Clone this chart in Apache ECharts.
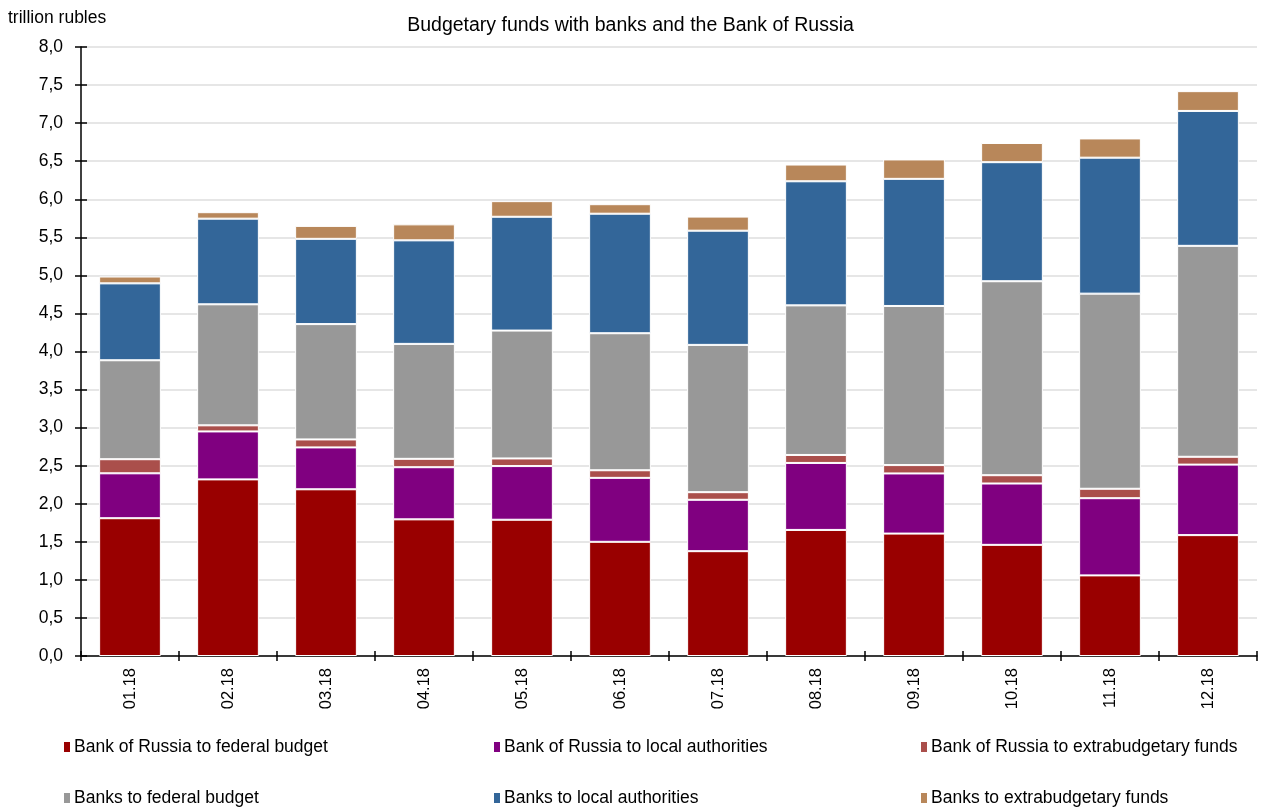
<!DOCTYPE html>
<html>
<head>
<meta charset="utf-8">
<script src="https://cdn.jsdelivr.net/npm/echarts@6/dist/echarts.min.js"></script>
<style>
html,body{margin:0;padding:0;background:#fff;}
#chart{width:1261px;height:807px;}
</style>
</head>
<body>
<div id="chart"></div>
<script>
const categories = ['01.18','02.18','03.18','04.18','05.18','06.18','07.18','08.18','09.18','10.18','11.18','12.18'];
const cbrFederal   = [1.81, 2.32, 2.19, 1.795, 1.79, 1.50, 1.377, 1.656, 1.608, 1.46, 1.059, 1.588];
const cbrLocal     = [0.59, 0.63, 0.55, 0.685, 0.705, 0.84, 0.675, 0.88, 0.79, 0.806, 1.014, 0.926];
const cbrExtra     = [0.185, 0.08, 0.105, 0.11, 0.10, 0.10, 0.10, 0.105, 0.11, 0.109, 0.124, 0.103];
const banksFederal = [1.30, 1.59, 1.515, 1.51, 1.68, 1.80, 1.935, 1.965, 2.09, 2.548, 2.563, 2.771];
const banksLocal   = [1.01, 1.125, 1.12, 1.36, 1.495, 1.57, 1.50, 1.63, 1.67, 1.564, 1.786, 1.772];
const banksExtra   = [0.09, 0.085, 0.17, 0.21, 0.205, 0.125, 0.185, 0.22, 0.255, 0.252, 0.253, 0.26];
const seriesNames = ['Bank of Russia to federal budget','Bank of Russia to local authorities','Bank of Russia to extrabudgetary funds','Banks to federal budget','Banks to local authorities','Banks to extrabudgetary funds'];
const seriesData = [cbrFederal, cbrLocal, cbrExtra, banksFederal, banksLocal, banksExtra];
const colors = ['#990000','#800080','#aa4f4b','#989898','#336699','#b8875a'];

const FONT = '"Liberation Sans", Arial, sans-serif';
const chart = echarts.init(document.getElementById('chart'), null, {renderer:'canvas'});

const legendPos = [[62,738],[492,738],[919,738],[62,789],[492,789],[919,789]];
const legends = seriesNames.map((n,i)=>({
  data:[n], left: legendPos[i][0], top: legendPos[i][1],
  itemWidth: 8, itemHeight: 12, itemGap: 5, icon: 'rect',
  textStyle:{fontFamily:FONT, fontSize:17.5, color:'#000', padding:[0,0,0,-2]},
  padding:0, selectedMode:false
}));

const option = {
  animation:false,
  color: colors,
  title:[
    {text:'Budgetary funds with banks and the Bank of Russia', left:'center', top:16,
     textStyle:{fontFamily:FONT, fontSize:19.5, fontWeight:'normal', color:'#000'}, padding:0},
    {text:'trillion rubles', left:8, top:9,
     textStyle:{fontFamily:FONT, fontSize:17.5, fontWeight:'normal', color:'#000'}, padding:0}
  ],
  legend: legends,
  grid:{left:81, right:4, top:47, bottom:151, containLabel:false},
  xAxis:[
    {type:'category', data:categories, boundaryGap:true,
     axisLine:{lineStyle:{color:'#000', width:1.5}},
     axisTick:{show:true, length:5, lineStyle:{color:'#000', width:1.5}},
     axisLabel:{rotate:90, fontFamily:FONT, fontSize:16.5, color:'#000', margin:12}},
    {type:'category', data:categories, boundaryGap:true, position:'bottom',
     axisLine:{show:false},
     axisTick:{show:true, inside:true, length:5, lineStyle:{color:'#000', width:1.5}},
     axisLabel:{show:false}, splitLine:{show:false}}
  ],
  yAxis:[
    {type:'value', min:0, max:8, interval:0.5,
     axisLine:{show:true, lineStyle:{color:'#000', width:1.5}},
     axisTick:{show:true, length:6, lineStyle:{color:'#000', width:1.5}},
     axisLabel:{fontFamily:FONT, fontSize:17.5, color:'#000', margin:18,
       formatter:v=>v.toFixed(1).replace('.',',')},
     splitLine:{show:true, lineStyle:{color:'#dedede', width:1.5}}},
    {type:'value', min:0, max:8, interval:0.5, position:'left',
     axisLine:{show:false},
     axisTick:{show:true, inside:true, length:6, lineStyle:{color:'#000', width:1.5}},
     axisLabel:{show:false}, splitLine:{show:false}}
  ],
  series: seriesNames.map((n,i)=>({
    name:n, type:'bar', stack:'total', data:seriesData[i],
    xAxisIndex:0, yAxisIndex:0,
    barCategoryGap:'37%',
    itemStyle:{color:colors[i], borderColor:'#fff', borderWidth:1}
  }))
};
chart.setOption(option);
</script>
</body>
</html>
